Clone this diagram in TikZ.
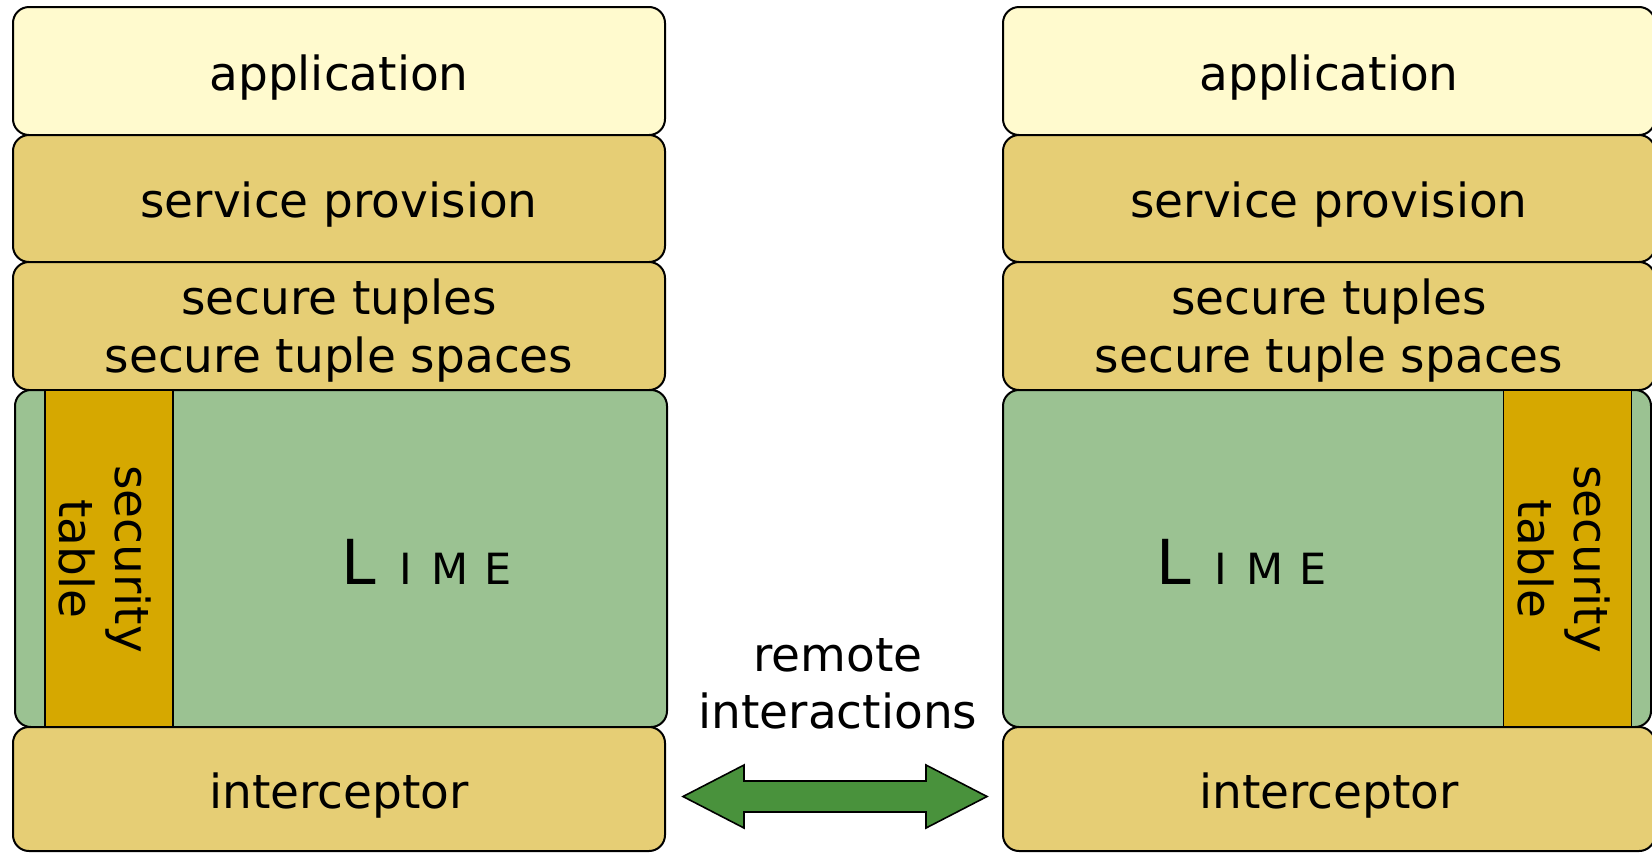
\documentclass[tikz,border=0pt]{standalone}
\usepackage{fontspec}
\setmainfont{DejaVu Sans}
\definecolor{appcol}{RGB}{255,250,206}
\definecolor{tancol}{RGB}{230,206,117}
\definecolor{limecol}{RGB}{155,194,146}
\definecolor{tabcol}{RGB}{214,168,0}
\definecolor{arrcol}{RGB}{73,146,60}
\newcommand{\limetext}{{\fontsize{31}{31}\selectfont L}\hspace{12pt}{\fontsize{21.5}{21.5}\selectfont I\hspace{9.5pt}M\hspace{8pt}E}}
\begin{document}
\begin{tikzpicture}[x=0.5pt,y=-0.5pt,
  layer/.style={draw, line width=1pt, rounded corners=8pt, inner sep=0pt, align=center,
    font=\fontsize{23.5}{28}\selectfont},
  oneline/.style={text height=19pt, text depth=0pt},
  twoline/.style={font=\fontsize{23.5}{29}\selectfont, text depth=-1.5pt},
  applayer/.style={layer, oneline, fill=appcol, minimum width=326pt, minimum height=64pt},
  tanlayer/.style={layer, fill=tancol, minimum width=326pt},
  limelayer/.style={layer, fill=limecol, minimum height=168.5pt},
  sectable/.style={draw, line width=0.8pt, fill=tabcol, inner sep=0pt, minimum width=64pt, minimum height=168.5pt},
  rottext/.style={rotate=-90, align=center, inner sep=0pt, font=\fontsize{23.5}{28}\selectfont},
  limelabel/.style={anchor=base west, inner sep=0pt},
  plaintext/.style={align=center, inner sep=0pt, font=\fontsize{23.5}{28.5}\selectfont}]
\useasboundingbox (0,0) rectangle (1652,852);
% left stack
\node[applayer] (appL) at (339,71) {application};
\node[tanlayer, oneline, minimum height=63.5pt] (svcL) at (339,198.5) {service provision};
\node[tanlayer, twoline, minimum height=64pt] (secL) at (339,326) {secure tuples\\secure tuple spaces};
\node[limelayer, minimum width=326pt] (limeL) at (341,558.5) {};
\node[sectable] (tabL) at (109,558.5) {};
\node[rottext] (tabLtxt) at (105,559) {security\\table};
\node[limelabel] (limeLtxt) at (341,584) {\limetext};
\node[tanlayer, oneline, minimum height=62pt] (intL) at (339,789) {interceptor};
% right stack
\node[applayer] (appR) at (1329,71) {application};
\node[tanlayer, oneline, minimum height=63.5pt] (svcR) at (1329,198.5) {service provision};
\node[tanlayer, twoline, minimum height=64pt] (secR) at (1329,326) {secure tuples\\secure tuple spaces};
\node[limelayer, minimum width=324pt] (limeR) at (1327,558.5) {};
\node[sectable] (tabR) at (1567.5,558.5) {};
\node[rottext] (tabRtxt) at (1563.5,559) {security\\table};
\node[limelabel] (limeRtxt) at (1156,584) {\limetext};
\node[tanlayer, oneline, minimum height=62pt] (intR) at (1329,789) {interceptor};
% remote interactions
\node[plaintext] (remote) at (838,684) {remote\\interactions};
\coordinate (arrL) at (683,796.5);
\coordinate (arrR) at (987,796.5);
\draw[line width=0.8pt, fill=arrcol]
  (arrL) -- ++(61,-31.5) -- ++(0,16) -- ++(182,0) -- ++(0,-16) -- (arrR)
  -- ++(-61,31.5) -- ++(0,-16) -- ++(-182,0) -- ++(0,16) -- cycle;
\end{tikzpicture}
\end{document}
